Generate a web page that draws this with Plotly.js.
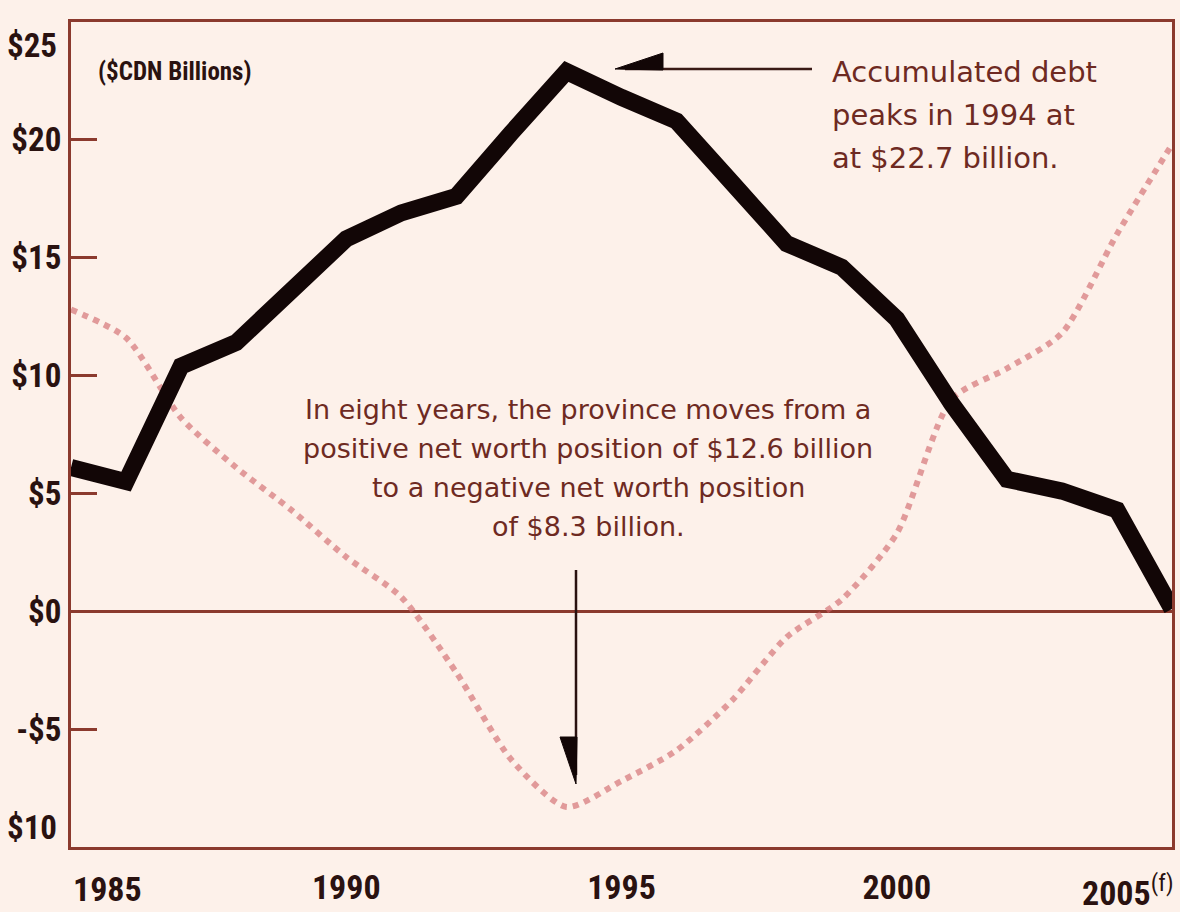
<!DOCTYPE html>
<html>
<head>
<meta charset="utf-8">
<script src="https://cdn.plot.ly/plotly-3.0.1.min.js"></script>
<style>
  html, body { margin: 0; padding: 0; background: #fdf1ea; }
  #chart { width: 1180px; height: 912px; }
</style>
</head>
<body>
<div id="chart"></div>
<script>
// ---- Data ----
var years = [1985, 1986, 1987, 1988, 1989, 1990, 1991, 1992, 1993, 1994, 1995,
             1996, 1997, 1998, 1999, 2000, 2001, 2002, 2003, 2004, 2005];
var accumulatedDebt = [6.1, 5.5, 10.4, 11.4, 13.6, 15.8, 16.9, 17.6, 20.3, 22.9, 21.8,
                       20.8, 18.2, 15.6, 14.6, 12.4, 8.8, 5.6, 5.1, 4.3, 0.1];
var netWorth = [12.8, 11.6, 8.2, 6.1, 4.3, 2.3, 0.6, -2.6, -6.3, -8.3, -7.2,
                -5.9, -3.8, -1.1, 0.5, 3.3, 9.0, 10.3, 11.8, 16.0, 19.8];

var yTickVals = [-5, 0, 5, 10, 15, 20];
var yTickText = ['-$5', '$0', '$5', '$10', '$15', '$20'];
var xTickVals = [1990, 1995, 2000];
var xTickText = ['1990', '1995', '2000'];

var unitLabel = '($CDN Billions)';
var debtNote = ['Accumulated debt', 'peaks in 1994 at', 'at $22.7 billion.'];
var netNote = ['In eight years, the province moves from a',
               'positive net worth position of $12.6 billion',
               'to a negative net worth position',
               'of $8.3 billion.'];

// ---- Styling ----
var bg = '#fdf1ea';
var frame = '#8b3a2e';
var ink = '#2a1210';
var noteInk = '#6e2a22';
var condFont = '"Liberation Sans Narrow", "Roboto Condensed", "DejaVu Sans Condensed", "Arial Narrow", sans-serif';
var textFont = '"DejaVu Sans", "Open Sans", sans-serif';

// pixel -> paper helpers for annotation geometry (plot area 71..1172 x 22..847)
function px(x) { return (x - 71) / 1101; }
function py(y) { return (847 - y) / 825; }

var traces = [
  {
    x: years, y: netWorth, type: 'scatter', mode: 'lines',
    line: { color: 'rgba(208,100,105,0.62)', width: 6, dash: 'dot', shape: 'spline', smoothing: 0.7 },
    hoverinfo: 'skip', name: 'Net worth'
  },
  {
    x: years, y: accumulatedDebt, type: 'scatter', mode: 'lines',
    line: { color: '#120606', width: 17, shape: 'linear' },
    hoverinfo: 'skip', name: 'Accumulated debt'
  }
];

var annotations = [];
annotations.push({
  xref: 'paper', yref: 'paper', x: px(96), y: py(72), xanchor: 'left', yanchor: 'middle',
  text: '<b>' + unitLabel + '</b>', showarrow: false,
  font: { family: condFont, size: 25, color: ink }
});
debtNote.forEach(function (t, i) {
  annotations.push({
    xref: 'paper', yref: 'paper', x: px(830), y: py(72 + i * 43), xanchor: 'left', yanchor: 'middle',
    text: t, showarrow: false, font: { family: textFont, size: 29, color: noteInk }
  });
});
netNote.forEach(function (t, i) {
  annotations.push({
    xref: 'paper', yref: 'paper', x: px(588), y: py(409 + i * 39), xanchor: 'center', yanchor: 'middle',
    text: t, showarrow: false, font: { family: textFont, size: 27, color: noteInk }
  });
});
// end tick labels shifted inward, as in the reference
annotations.push({
  xref: 'x', yref: 'paper', x: 1985, y: 0, xanchor: 'left', yanchor: 'top', yshift: -20, xshift: 0,
  text: '<b>1985</b>', showarrow: false, font: { family: condFont, size: 34, color: ink }
});
annotations.push({
  xref: 'x', yref: 'paper', x: 2005, y: 0, xanchor: 'right', yanchor: 'top', yshift: -20, xshift: 4,
  text: '<b>2005</b><sup>(f)</sup>', showarrow: false,
  font: { family: condFont, size: 34, color: ink }
});
annotations.push({
  xref: 'paper', yref: 'y', x: 0, y: 25, xanchor: 'right', yanchor: 'top', xshift: -12, yshift: -2,
  text: '<b>$25</b>', showarrow: false, font: { family: condFont, size: 33, color: ink }
});
annotations.push({
  xref: 'paper', yref: 'y', x: 0, y: -10, xanchor: 'right', yanchor: 'bottom', xshift: -12, yshift: -2,
  text: '<b>$10</b>', showarrow: false, font: { family: condFont, size: 33, color: ink }
});

var shapes = [
  // arrow to the debt peak
  { type: 'line', xref: 'paper', yref: 'paper', x0: px(625), y0: py(69), x1: px(812), y1: py(69),
    line: { color: '#3a1a16', width: 2.5 } },
  { type: 'path', xref: 'paper', yref: 'paper',
    path: 'M ' + px(615) + ' ' + py(69) + ' L ' + px(663) + ' ' + py(53) + ' L ' + px(663) + ' ' + py(70) + ' Z',
    fillcolor: '#120606', line: { color: '#120606', width: 1 } },
  // arrow to the net worth trough
  { type: 'line', xref: 'paper', yref: 'paper', x0: px(576), y0: py(570), x1: px(576), y1: py(775),
    line: { color: '#2a1210', width: 2.5 } },
  { type: 'path', xref: 'paper', yref: 'paper',
    path: 'M ' + px(560) + ' ' + py(737) + ' L ' + px(577) + ' ' + py(737) + ' L ' + px(576) + ' ' + py(784) + ' Z',
    fillcolor: '#120606', line: { color: '#120606', width: 1 } }
];

var layout = {
  width: 1180, height: 912,
  paper_bgcolor: bg, plot_bgcolor: bg,
  margin: { l: 71, r: 8, t: 22, b: 65 },
  showlegend: false,
  xaxis: {
    range: [1985, 2005], tickmode: 'array', tickvals: xTickVals, ticktext: xTickText,
    ticks: '', showgrid: false, zeroline: false,
    showline: true, mirror: true, linecolor: frame, linewidth: 3,
    tickfont: { family: condFont, size: 34, color: ink, weight: 'bold' },
    ticklabelstandoff: 8
  },
  yaxis: {
    range: [-10, 25], tickmode: 'array', tickvals: yTickVals, ticktext: yTickText,
    ticks: 'inside', ticklen: 26, tickwidth: 3, tickcolor: frame,
    showgrid: false, zeroline: true, zerolinecolor: frame, zerolinewidth: 3,
    showline: true, mirror: true, linecolor: frame, linewidth: 3,
    tickfont: { family: condFont, size: 33, color: ink, weight: 'bold' },
    ticklabelstandoff: 0
  },
  annotations: annotations,
  shapes: shapes
};

Plotly.newPlot('chart', traces, layout, { displayModeBar: false, staticPlot: true });
</script>
</body>
</html>
